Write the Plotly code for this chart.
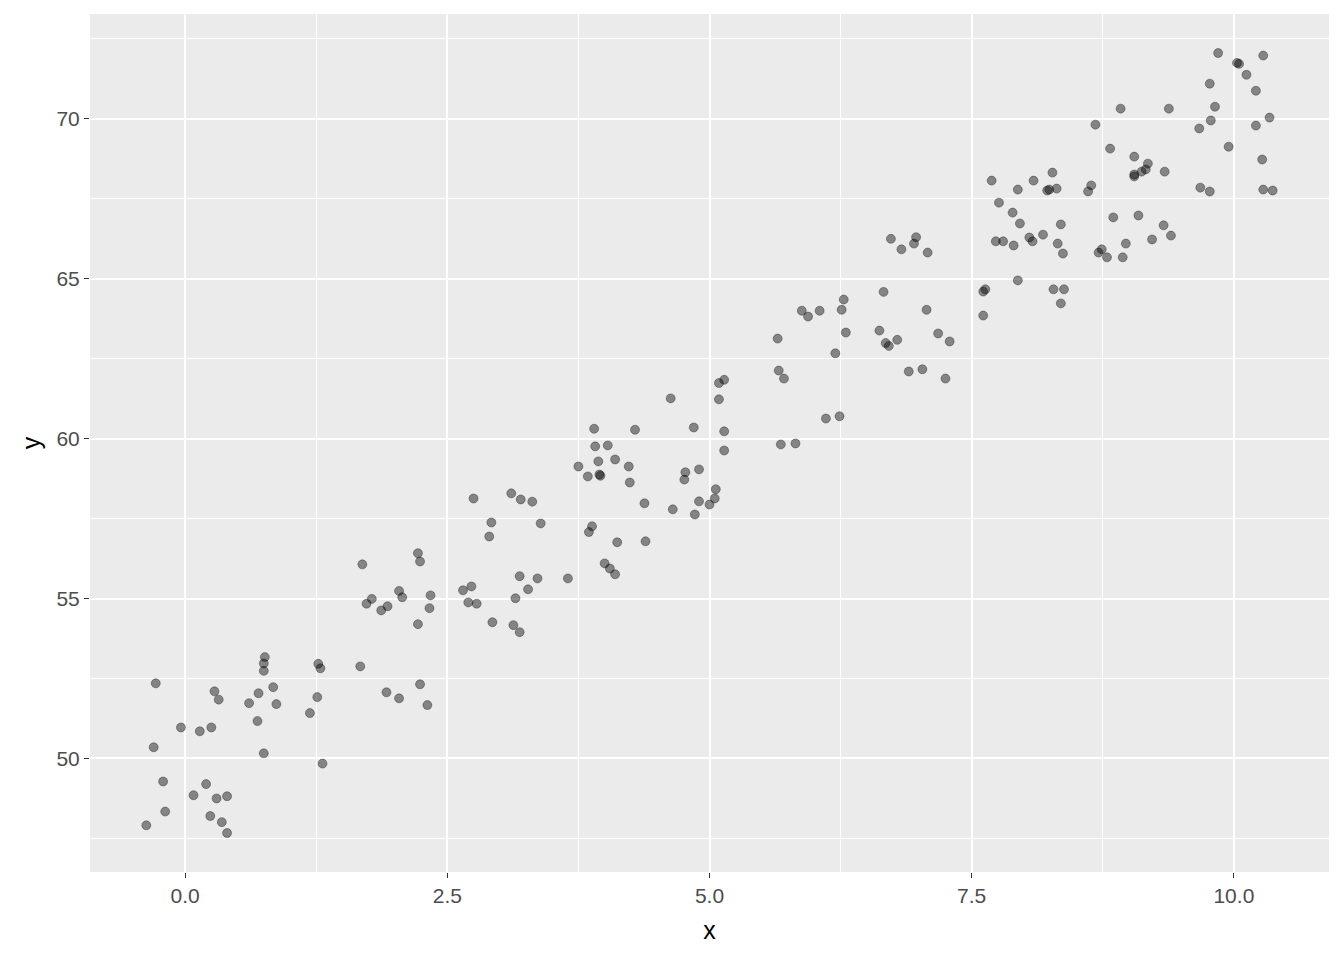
import plotly.graph_objects as go

x_vals = [
    -0.28, -0.30, -0.04, -0.21, -0.19, -0.37, 0.08, 0.20, 0.30, 0.40, 0.24, 0.35, 0.40, 0.14, 0.25, 0.28, 0.32,
    0.61, 0.70, 0.69, 0.76, 0.75, 0.75, 0.84, 0.87, 0.75, 1.19, 1.26, 1.27, 1.29, 1.31,
    2.75, 3.11, 3.20, 3.31, 2.92, 3.39, 2.90, 2.22, 2.24, 1.69, 1.78, 1.73, 2.04, 2.07, 1.93, 1.87,
    2.34, 2.33, 2.22, 1.67, 1.92, 2.04, 2.24, 2.31, 2.73, 2.65, 2.70, 2.78, 3.19, 3.36, 3.27, 3.15,
    2.93, 3.13, 3.19,
    4.63, 5.09, 5.09, 5.14, 3.90, 4.29, 4.85, 5.14, 5.14, 3.91, 4.03, 3.94, 4.10, 3.75, 4.23, 3.84,
    3.95, 3.96, 4.24, 4.77, 4.76, 4.90, 5.06, 5.05, 5.00, 4.90, 4.65, 4.86, 4.38, 3.88, 3.85, 4.12,
    4.39, 4.00, 4.05, 4.10, 3.65,
    6.66, 6.28, 5.88, 5.94, 6.05, 6.26, 7.07, 5.65, 6.30, 6.62, 6.68, 6.71, 6.79, 7.18, 7.29, 6.20,
    5.66, 5.71, 6.90, 7.03, 7.25, 6.11, 6.24, 5.68, 5.82,
    6.73, 6.97, 6.95, 6.83, 7.08,
    8.68, 8.82, 9.05, 9.05, 9.05, 9.12, 9.16, 9.18, 9.34, 7.69, 7.94, 8.09, 8.27, 8.22, 8.24, 8.31,
    8.64, 8.61, 7.76, 7.89, 7.96, 8.35, 8.18, 8.05, 8.08, 7.73, 7.80, 7.90, 8.32, 8.37, 8.85, 9.09,
    8.97, 8.74, 8.71, 8.79, 8.94, 7.94, 7.63, 7.61, 8.28, 8.38, 8.35, 7.61,
    9.33, 9.40, 9.22,
    9.85, 10.28, 10.03, 10.05, 10.12, 9.77, 10.21, 9.38, 9.82, 9.78, 9.67, 10.34, 10.21, 9.95, 10.27,
    9.68, 9.77, 10.28, 10.37, 8.92,
]

y_vals = [
    52.35, 50.35, 50.97, 49.28, 48.34, 47.91, 48.85, 49.20, 48.75, 48.82, 48.20, 48.01, 47.67, 50.85, 50.97, 52.10, 51.84,
    51.73, 52.04, 51.17, 53.17, 52.97, 52.74, 52.23, 51.70, 50.16, 51.42, 51.92, 52.96, 52.82, 49.84,
    58.13, 58.29, 58.10, 58.03, 57.38, 57.35, 56.94, 56.42, 56.16, 56.07, 54.99, 54.84, 55.24, 55.04, 54.76, 54.63,
    55.10, 54.70, 54.20, 52.88, 52.07, 51.88, 52.32, 51.67, 55.38, 55.26, 54.88, 54.84, 55.70, 55.63, 55.29, 55.01,
    54.26, 54.17, 53.95,
    61.26, 61.23, 61.74, 61.84, 60.31, 60.28, 60.35, 60.23, 59.63, 59.76, 59.79, 59.29, 59.35, 59.13, 59.13, 58.82,
    58.88, 58.84, 58.63, 58.95, 58.72, 59.04, 58.42, 58.13, 57.94, 58.04, 57.79, 57.63, 57.98, 57.26, 57.08, 56.76,
    56.79, 56.10, 55.94, 55.76, 55.63,
    64.59, 64.35, 64.00, 63.82, 64.00, 64.03, 64.03, 63.13, 63.32, 63.38, 62.99, 62.90, 63.09, 63.29, 63.04, 62.67,
    62.13, 61.88, 62.10, 62.17, 61.88, 60.63, 60.70, 59.82, 59.85,
    66.25, 66.30, 66.10, 65.92, 65.82,
    69.82, 69.07, 68.82, 68.26, 68.20, 68.35, 68.42, 68.60, 68.35, 68.07, 67.79, 68.07, 68.32, 67.76, 67.79, 67.82,
    67.92, 67.73, 67.38, 67.07, 66.73, 66.70, 66.38, 66.29, 66.17, 66.17, 66.17, 66.04, 66.10, 65.79, 66.92, 66.98,
    66.10, 65.92, 65.82, 65.67, 65.67, 64.95, 64.67, 64.60, 64.67, 64.67, 64.23, 63.85,
    66.67, 66.35, 66.23,
    72.06, 71.98, 71.75, 71.72, 71.38, 71.10, 70.88, 70.32, 70.38, 69.95, 69.70, 70.04, 69.79, 69.13, 68.73,
    67.85, 67.73, 67.79, 67.76, 70.32,
]

assert len(x_vals) == len(y_vals)

x_ticks = [0.0, 2.5, 5.0, 7.5, 10.0]
x_tick_labels = ["0.0", "2.5", "5.0", "7.5", "10.0"]
y_ticks = [50, 55, 60, 65, 70]
y_tick_labels = ["50", "55", "60", "65", "70"]

# ggplot-style 5% expansion
def expand(vals, frac=0.05):
    lo, hi = min(vals), max(vals)
    d = (hi - lo) * frac
    return [lo - d, hi + d]

fill_color = "rgba(0,0,0,0.44)"
edge_color = "rgba(0,0,0,0.32)"

fig = go.Figure(
    go.Scatter(
        x=x_vals, y=y_vals, mode="markers",
        marker=dict(size=9, color=fill_color, line=dict(color=edge_color, width=1)),
        hoverinfo="x+y",
    )
)

FONT = "Liberation Sans, Arial, sans-serif"
axis_common = dict(
    showgrid=True, gridcolor="white", gridwidth=2,
    zeroline=False, showline=False,
    ticks="outside", ticklen=5, tickwidth=1.1, tickcolor="#333333",
    tickfont=dict(family=FONT, size=21, color="#4D4D4D"),
    title_font=dict(family=FONT, size=25, color="black"),
)

fig.update_xaxes(
    **axis_common,
    range=expand(x_vals),
    tickvals=x_ticks, ticktext=x_tick_labels,
    minor=dict(dtick=1.25, tick0=0, showgrid=True, gridcolor="white", gridwidth=1, ticks=""),
    title_text="x", title_standoff=15,
)
fig.update_yaxes(
    **axis_common,
    range=expand(y_vals),
    tickvals=y_ticks, ticktext=y_tick_labels,
    minor=dict(dtick=2.5, tick0=0, showgrid=True, gridcolor="white", gridwidth=1, ticks=""),
    title_text="y", title_standoff=8,
)

fig.update_layout(
    width=1336, height=952,
    margin=dict(l=82, r=15, t=6, b=88),
    plot_bgcolor="#EBEBEB", paper_bgcolor="white",
    showlegend=False,
    font=dict(family=FONT),
)

fig.write_html("out.html")
